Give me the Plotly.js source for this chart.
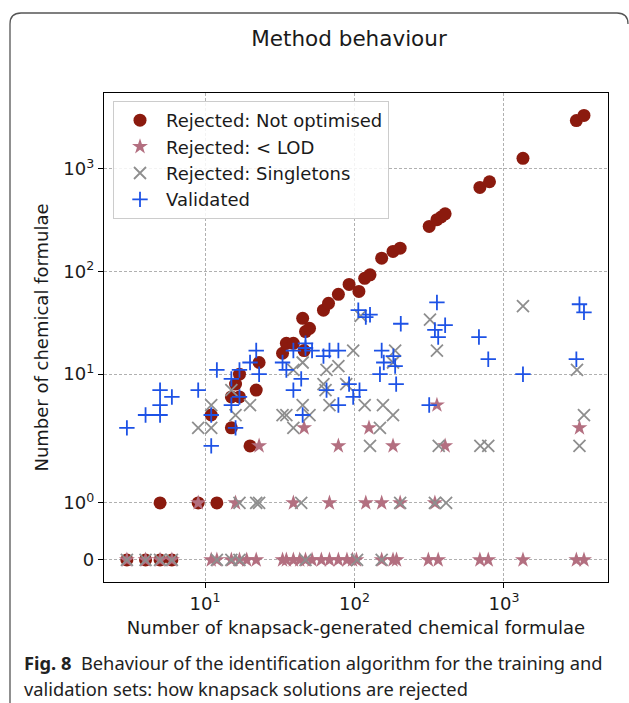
<!DOCTYPE html>
<html>
<head>
<meta charset="utf-8">
<script src="https://cdn.plot.ly/plotly-3.0.1.min.js"></script>
<style>html,body{margin:0;padding:0;background:#fff;}#chart{width:629px;height:703px;}</style>
</head>
<body>
<div id="chart"></div>
<script>
// ---- data ----
const notOptX = [3,4,5,6, 5,9,12, 11,15,20,22,23,15,16,17,17, 33,35,39,46,45,47,50,62,67,78,92,107,117,127,152,181,202,316,356,380,404,690,800,1340,3050,3430];
const notOptY = [0,0,0,0, 1,1,1, 4,3,2,7,13,6,8,10,6, 16,20,20,17,35,26,28,42,49,60,75,64,86,93,135,157,169,275,320,340,365,660,750,1270,2960,3320];

const lodX = [3,4,5,6,11,12,15,17,19,22,33,35,39,43,47,52,60,68,78,89,97,103,152,181,191,312,363,690,785,1340,3050,3430,
              9,16,39,68,119,152,202,345,
              23,78,181,404,
              46,125,3200,
              356];
const lodY = [0,0,0,0,0,0,0,0,0,0,0,0,0,0,0,0,0,0,0,0,0,0,0,0,0,0,0,0,0,0,0,0,
              1,1,1,1,1,1,1,1,
              2,2,2,2,
              3,3,3,
              5];

const singX = [3,4,5,6,12,15,17,47,104,152,
               17,22,23,44,202,345,410,
               9,11,11,15,16,20,33,35,39,39,45,45,50,62,64,65,78,68,88,98,110,117,127,148,155,181,181,187,320,356,366,695,785,1340,3080,3430,3200];
const singY = [0,0,0,0,0,0,0,0,0,0,
               1,1,1,1,1,1,1,
               3,3,5,7,4,5,4,4,3,11,13,5,4,8,7,11,12,5,8,17,37,5,2,3,5,4,13,17,34,17,2,2,2,46,11,4,2];

const valX = [3,4,5,5,5,6,9,11,11,12,15,15,16,17,17,20,22,23,33,35,39,39,44,45,47,47,52,62,65,68,78,78,92,98,108,106,119,127,148,152,157,182,187,190,204,316,345,356,363,404,680,785,1340,3050,3200,3430];
const valY = [3,4,4,5,7,6,7,2,4,11,9,5,3,11,6,13,17,10,13,11,17,7,9,4,20,18,17,15,7,17,17,5,8,6,7,42,36,38,10,17,13,15,12,8,31,5,27,50,23,30,23,14,10,14,48,40];

const seriesNames = ['Rejected: Not optimised', 'Rejected: < LOD', 'Rejected: Singletons', 'Validated'];
const yTickValues = [0, 1, 10, 100, 1000];
const yTickLabels = ['0', '10<sup>0</sup>', '10<sup>1</sup>', '10<sup>2</sup>', '10<sup>3</sup>'];
const xTickValues = [10, 100, 1000];
const xTickLabels = ['10<sup>1</sup>', '10<sup>2</sup>', '10<sup>3</sup>'];

// symmetric log transform (linthresh 2, linscale 1, base 10) like matplotlib symlog
function symlog(v) {
  const lt = 2, ls = 1 / (1 - 1 / 10);
  const a = Math.abs(v), s = Math.sign(v);
  if (a <= lt) return v * ls;
  return s * lt * (ls + Math.log10(a / lt));
}

// pixel helpers for paper-space decorations
const W = 629, H = 703, L = 104, R = 608, T = 93, B = 582;
const px = p => (p - L) / (R - L);
const py = p => (B - p) / (B - T);

const font = 'DejaVu Sans, Verdana, sans-serif';
const capFont = 'Noto Sans, Open Sans, sans-serif';
const gridDash = '3px,2px';

const traces = [
  {x: notOptX, y: notOptY.map(symlog), name: seriesNames[0], legendgroup: 'a',
   mode: 'markers', type: 'scatter',
   marker: {symbol: 'circle', size: 13, color: '#8b1a0e', line: {width: 0}}},
  {x: lodX, y: lodY.map(symlog), name: seriesNames[1], legendgroup: 'b',
   mode: 'markers', type: 'scatter',
   marker: {symbol: 'star', size: 12, color: '#b36f80', line: {width: 0}}},
  {x: singX, y: singY.map(symlog), name: seriesNames[2], legendgroup: 'c',
   mode: 'markers', type: 'scatter',
   marker: {symbol: 'x-thin', size: 12, color: '#8e8e8e', line: {width: 1.8, color: '#8e8e8e'}}},
  {x: valX, y: valY.map(symlog), name: seriesNames[3], legendgroup: 'd',
   mode: 'markers', type: 'scatter',
   marker: {symbol: 'cross-thin', size: 11, color: '#1d52e6', line: {width: 1.8, color: '#1d52e6'}}}
];

const layout = {
  width: W, height: H,
  margin: {l: L, r: W - R, t: T, b: H - B, pad: 0},
  paper_bgcolor: '#ffffff', plot_bgcolor: '#ffffff',
  font: {family: font, size: 18, color: '#1a1a1a'},
  showlegend: true,
  title: {text: 'Method behaviour', font: {family: font, size: 21.5, color: '#1a1a1a'},
          x: 349 / W, xanchor: 'center', y: 1 - 38 / H, yanchor: 'middle'},
  xaxis: {
    type: 'log', range: [0.324, 3.696],
    tickvals: xTickValues, ticktext: xTickLabels,
    ticks: 'outside', ticklen: 5, tickwidth: 1, tickcolor: '#000',
    showline: true, linecolor: '#000', linewidth: 1.2, mirror: true,
    showgrid: true, gridcolor: '#b0b0b0', griddash: gridDash, gridwidth: 1,
    zeroline: false,
    tickfont: {family: font, size: 18, color: '#1a1a1a'},
    title: {text: 'Number of knapsack-generated chemical formulae', standoff: 8,
            font: {family: font, size: 18, color: '#1a1a1a'}}
  },
  yaxis: {
    type: 'linear', range: [-0.43, 9.10],
    tickvals: yTickValues.map(symlog), ticktext: yTickLabels,
    ticks: 'outside', ticklen: 5, tickwidth: 1, tickcolor: '#000',
    showline: true, linecolor: '#000', linewidth: 1.2, mirror: true,
    showgrid: true, gridcolor: '#b0b0b0', griddash: gridDash, gridwidth: 1,
    zeroline: false,
    tickfont: {family: font, size: 18, color: '#1a1a1a'},
    title: {text: 'Number of chemical formulae', standoff: 10,
            font: {family: font, size: 18, color: '#1a1a1a'}}
  },
  legend: {
    x: px(113), y: py(101), xanchor: 'left', yanchor: 'top',
    bgcolor: 'rgba(255,255,255,0.85)', bordercolor: '#cccccc', borderwidth: 1,
    font: {family: font, size: 18, color: '#1a1a1a'},
    traceorder: 'grouped', tracegroupgap: 0, itemsizing: 'trace', itemwidth: 42
  },
  shapes: [
    {type: 'path', xref: 'paper', yref: 'paper', layer: 'above',
     path: `M ${px(10)} ${py(703)} L ${px(10)} ${py(24)} Q ${px(10)} ${py(13)} ${px(21)} ${py(13)} L ${px(617)} ${py(13)} Q ${px(628)} ${py(13)} ${px(628)} ${py(24)}`,
     line: {color: '#555555', width: 1.3}}
  ],
  annotations: [
    {xref: 'paper', yref: 'paper', x: px(22), y: py(662), xanchor: 'left', yanchor: 'middle',
     showarrow: false, align: 'left',
     text: '<b>Fig. 8</b>  Behaviour of the identification algorithm for the training and',
     font: {family: capFont, size: 18.3, color: '#222'}},
    {xref: 'paper', yref: 'paper', x: px(22), y: py(688), xanchor: 'left', yanchor: 'middle',
     showarrow: false, align: 'left',
     text: 'validation sets: how knapsack solutions are rejected',
     font: {family: capFont, size: 18.3, color: '#222'}}
  ]
};

Plotly.newPlot('chart', traces, layout, {staticPlot: true, displayModeBar: false});
</script>
</body>
</html>
